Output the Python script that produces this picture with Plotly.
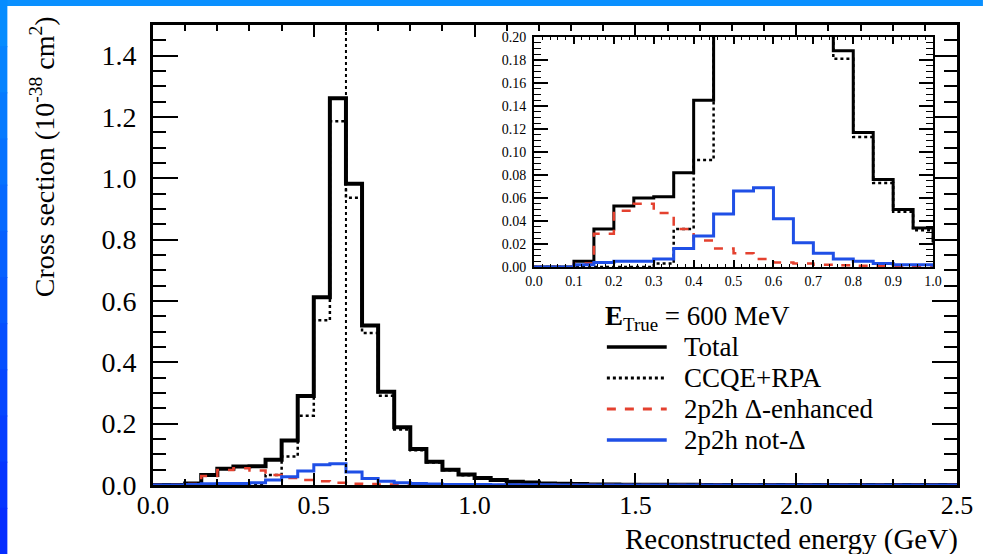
import plotly.graph_objects as go

# ---------------- data ----------------
bin_edges = [0.00, 0.05, 0.10, 0.15, 0.20, 0.25, 0.30, 0.35, 0.40, 0.45,
             0.50, 0.55, 0.60, 0.65, 0.70, 0.75, 0.80, 0.85, 0.90, 0.95,
             1.00, 1.05, 1.10, 1.15, 1.20, 1.25, 1.30, 1.35, 1.40, 1.45,
             1.50, 1.55, 1.60, 1.65, 1.70, 1.75, 1.80, 1.85, 1.90, 1.95,
             2.00, 2.05, 2.10, 2.15, 2.20, 2.25, 2.30, 2.35, 2.40, 2.45,
             2.50]

total = [0.000, 0.000, 0.005, 0.033, 0.053, 0.060, 0.061, 0.082, 0.145, 0.290,
         0.612, 1.261, 0.982, 0.520, 0.304, 0.188, 0.117, 0.076, 0.050, 0.034,
         0.023, 0.016, 0.011, 0.008, 0.005, 0.004, 0.003, 0.002, 0.0015, 0.001,
         0.001, 0.0008, 0.0006, 0.0005, 0.0004, 0.0003, 0.0003, 0.0002, 0.0002, 0.0001,
         0.0001, 0.0001, 0.0, 0.0, 0.0, 0.0, 0.0, 0.0, 0.0, 0.0]

ccqe_rpa = [0.000, 0.000, 0.000, 0.000, 0.000, 0.000, 0.003, 0.033, 0.093, 0.226,
            0.537, 1.186, 0.937, 0.496, 0.291, 0.181, 0.113, 0.073, 0.048, 0.032,
            0.021, 0.015, 0.010, 0.007, 0.005, 0.0035, 0.0025, 0.0018, 0.0013, 0.001,
            0.0008, 0.0006, 0.0005, 0.0004, 0.0003, 0.0002, 0.0002, 0.0002, 0.0001, 0.0001,
            0.0001, 0.0, 0.0, 0.0, 0.0, 0.0, 0.0, 0.0, 0.0, 0.0]

delta_enh = [0.000, 0.000, 0.003, 0.029, 0.049, 0.055, 0.047, 0.033, 0.023, 0.016,
             0.012, 0.007, 0.004, 0.003, 0.002, 0.0015, 0.001, 0.0008, 0.0006, 0.0005,
             0.0004, 0.0003, 0.0002, 0.0002, 0.0001, 0.0001, 0.0, 0.0, 0.0, 0.0,
             0.0, 0.0, 0.0, 0.0, 0.0, 0.0, 0.0, 0.0, 0.0, 0.0,
             0.0, 0.0, 0.0, 0.0, 0.0, 0.0, 0.0, 0.0, 0.0, 0.0]

not_delta = [0.000, 0.000, 0.002, 0.004, 0.005, 0.005, 0.007, 0.016, 0.027, 0.046,
             0.066, 0.069, 0.042, 0.021, 0.012, 0.007, 0.005, 0.003, 0.002, 0.002,
             0.0015, 0.001, 0.001, 0.0008, 0.0005, 0.0004, 0.0003, 0.0002, 0.0001, 0.0001,
             0.0, 0.0, 0.0, 0.0, 0.0, 0.0, 0.0, 0.0, 0.0, 0.0,
             0.0, 0.0, 0.0, 0.0, 0.0, 0.0, 0.0, 0.0, 0.0, 0.0]

e_true = 0.6  # GeV

series_names = ["Total", "CCQE+RPA", "2p2h \u0394-enhanced", "2p2h not-\u0394"]

# ---------------- style ----------------
W, H = 985, 554
L, R, T, B = 153, 26, 25, 69
PW, PH = W - L - R, H - T - B
FONT = "Liberation Serif"
RED = "#e4412f"
BLUE = "#1f4fe6"


def px_x(p):
    return (p - L) / PW


def px_y(p):
    return (H - B - p) / PH


styles = [
    dict(color="black", width=4, dash="solid"),
    dict(color="black", width=2.5, dash="dot"),
    dict(color=RED, width=2.5, dash="dash"),
    dict(color=BLUE, width=3, dash="solid"),
]
inset_widths = [3, 2.5, 2.5, 3]

all_series = [total, ccqe_rpa, delta_enh, not_delta]

fig = go.Figure()

for name, vals, st in zip(series_names, all_series, styles):
    fig.add_trace(go.Scatter(x=bin_edges, y=vals + [vals[-1]], mode="lines",
                             line=dict(shape="hv", **st), name=name,
                             showlegend=False, xaxis="x", yaxis="y"))

# vertical line at E_true
fig.add_trace(go.Scatter(x=[e_true, e_true], y=[0, 1.5], mode="lines",
                         line=dict(color="black", width=2, dash="dot"),
                         showlegend=False, xaxis="x", yaxis="y"))

for name, vals, st, w in zip(series_names, all_series, styles, inset_widths):
    s = dict(st)
    s["width"] = w
    fig.add_trace(go.Scatter(x=bin_edges, y=vals + [vals[-1]], mode="lines",
                             line=dict(shape="hv", **s), name=name,
                             showlegend=False, xaxis="x2", yaxis="y2"))

tickfont_x = dict(family=FONT, size=26, color="black")
tickfont_y = dict(family=FONT, size=28, color="black")
tickfont_in = dict(family=FONT, size=14, color="black")

fig.update_layout(
    width=W, height=H,
    margin=dict(l=L, r=R, t=T, b=B),
    paper_bgcolor="white", plot_bgcolor="white",
    showlegend=False,
    xaxis=dict(range=[0, 2.5], dtick=0.5, tick0=0, tickformat=".1f",
               ticks="inside", ticklen=12, tickwidth=2, tickcolor="black",
               minor=dict(dtick=0.1, ticks="inside", ticklen=6, tickwidth=2, tickcolor="black"),
               showline=True, linewidth=3, linecolor="black", mirror="allticks",
               showgrid=False, zeroline=False, tickfont=tickfont_x,
               ticklabelstandoff=-5),
    yaxis=dict(range=[0, 1.5], dtick=0.2, tick0=0, tickformat=".1f",
               ticks="inside", ticklen=25, tickwidth=2, tickcolor="black",
               minor=dict(dtick=0.05, ticks="inside", ticklen=13, tickwidth=2, tickcolor="black"),
               showline=True, linewidth=3, linecolor="black", mirror="allticks",
               showgrid=False, zeroline=False, tickfont=tickfont_y,
               ticklabelstandoff=8),
    xaxis2=dict(domain=[px_x(535), px_x(935)], anchor="y2",
                range=[0, 1.0], dtick=0.1, tick0=0, tickformat=".1f",
                ticks="inside", ticklen=7, tickwidth=1.5, tickcolor="black",
                minor=dict(dtick=0.02, ticks="inside", ticklen=3, tickwidth=1, tickcolor="black"),
                showline=True, linewidth=2, linecolor="black", mirror="allticks",
                showgrid=False, zeroline=False, tickfont=tickfont_in),
    yaxis2=dict(domain=[px_y(267), px_y(37)], anchor="x2",
                range=[0, 0.2], dtick=0.02, tick0=0, tickformat=".2f",
                ticks="inside", ticklen=14, tickwidth=1.5, tickcolor="black",
                minor=dict(dtick=0.005, ticks="inside", ticklen=7, tickwidth=1, tickcolor="black"),
                showline=True, linewidth=2, linecolor="black", mirror="allticks",
                showgrid=False, zeroline=False, tickfont=tickfont_in,
                ticklabelstandoff=3),
)

# white background for inset (drawn below traces)
shapes = [
    dict(type="rect", xref="paper", yref="paper",
         x0=px_x(535), x1=px_x(935), y0=px_y(267), y1=px_y(37),
         fillcolor="white", line=dict(width=0), layer="below"),
]

# slide frame strips (blue)
shapes.append(dict(type="rect", xref="paper", yref="paper",
                   x0=px_x(0), x1=px_x(W), y0=px_y(6), y1=px_y(-2),
                   fillcolor="#0a90ff", line=dict(width=0), layer="above"))
n_seg = 12
for i in range(n_seg):
    y0p = i * H / n_seg
    y1p = (i + 1) * H / n_seg
    f = i / (n_seg - 1)
    g = int(140 - 95 * f)
    shapes.append(dict(type="rect", xref="paper", yref="paper",
                       x0=px_x(-2), x1=px_x(7), y0=px_y(y1p + 1), y1=px_y(y0p),
                       fillcolor=f"rgb(5,{g},255)", line=dict(width=0), layer="above"))

# legend samples
leg_rows = [347, 378, 409, 440]
for st, yy in zip(styles, leg_rows):
    shapes.append(dict(type="line", xref="paper", yref="paper",
                       x0=px_x(608), x1=px_x(668), y0=px_y(yy), y1=px_y(yy),
                       line=dict(color=st["color"], width=3.5 if st["dash"] == "solid" else 3,
                                 dash=st["dash"])))

fig.update_layout(shapes=shapes)

annotations = [
    dict(text="<b>E</b><sub>True</sub> = 600 MeV", x=px_x(604), y=px_y(318),
         xref="paper", yref="paper", xanchor="left", yanchor="middle",
         showarrow=False, font=dict(family=FONT, size=27, color="black")),
    dict(text="Cross section (10<sup>-38</sup> cm<sup>2</sup>)", x=px_x(42), y=px_y(157),
         xref="paper", yref="paper", xanchor="center", yanchor="middle", textangle=-90,
         showarrow=False, font=dict(family=FONT, size=28, color="black")),
    dict(text="Reconstructed energy (GeV)", x=px_x(962), y=px_y(539),
         xref="paper", yref="paper", xanchor="right", yanchor="middle",
         showarrow=False, font=dict(family=FONT, size=29, color="black")),
]
for name, yy in zip(series_names, leg_rows):
    annotations.append(dict(text=name, x=px_x(683), y=px_y(yy), xref="paper", yref="paper",
                            xanchor="left", yanchor="middle", showarrow=False,
                            font=dict(family=FONT, size=27, color="black")))
fig.update_layout(annotations=annotations)

fig.write_html("out.html")
